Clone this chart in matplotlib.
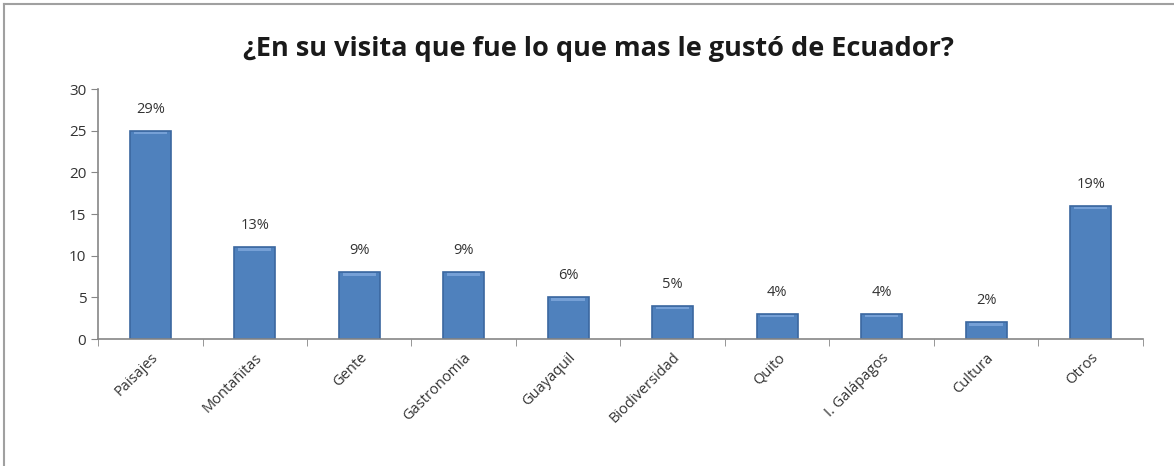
import matplotlib.pyplot as plt
from matplotlib.lines import Line2D

categorias = ['Paisajes', 'Montañitas', 'Gente', 'Gastronomia', 'Guayaquil',
              'Biodiversidad', 'Quito', 'I. Galápagos', 'Cultura', 'Otros']
respuestas = [25, 11, 8, 8, 5, 4, 3, 3, 2, 16]
total = sum(respuestas)
porcentajes = [round(v * 100 / total) for v in respuestas]

plt.rcParams['font.family'] = ['Open Sans', 'DejaVu Sans']

fig = plt.figure(figsize=(11.74, 4.66), dpi=100)
ax = fig.add_axes([0.0835, 0.2725, 0.89, 0.5365])

# marco del grafico
fig.add_artist(Line2D([0.003, 0.003], [0.0, 0.991], color='#a0a0a0', lw=1.5,
                      transform=fig.transFigure))
fig.add_artist(Line2D([0.003, 1.0], [0.991, 0.991], color='#a0a0a0', lw=1.5,
                      transform=fig.transFigure))

x = list(range(len(categorias)))
ax.bar(x, respuestas, width=0.39, color='#4f81bd', edgecolor='#3b67a0', linewidth=1.2)
# bisel claro en la parte superior de cada barra
ax.bar(x, [0.3] * len(x), bottom=[v - 0.4 for v in respuestas], width=0.32,
       color='#76a0d6', linewidth=0)

for xi, v, p in zip(x, respuestas, porcentajes):
    ax.annotate(f'{p}%', (xi, v), xytext=(0, 10), textcoords='offset points',
                ha='center', va='bottom', fontsize=10.5, color='#333333')

ax.set_xlim(-0.5, len(categorias) - 0.5)
ax.set_ylim(0, 30)
ax.set_yticks(range(0, 31, 5))
ax.set_xticks(x)
ax.set_xticklabels(categorias, rotation=45, ha='right', rotation_mode='anchor',
                   fontsize=10.5, color='#333333')
ax.set_xticks([i - 0.5 for i in range(len(categorias) + 1)], minor=True)
ax.tick_params(axis='x', which='major', length=0, pad=8)
ax.tick_params(axis='x', which='minor', length=5, color='#868686', direction='out')
ax.tick_params(axis='y', length=5, color='#868686', labelsize=11, labelcolor='#333333')

for s in ['top', 'right']:
    ax.spines[s].set_visible(False)
for s in ['left', 'bottom']:
    ax.spines[s].set_color('#868686')
    ax.spines[s].set_linewidth(1.2)

fig.text(0.51, 0.895, '¿En su visita que fue lo que mas le gustó de Ecuador?',
         ha='center', va='center', fontsize=19.5, fontweight='bold', color='#1a1a1a')

fig.savefig('out.png', dpi=100, facecolor='white')
